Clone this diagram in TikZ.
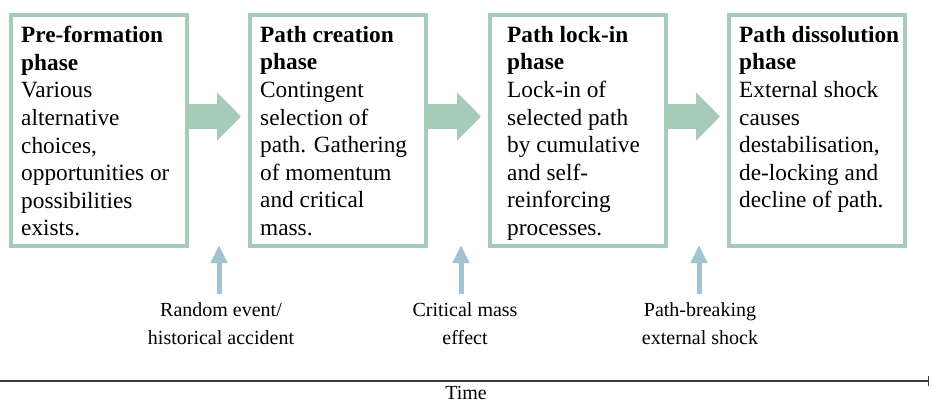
\documentclass[tikz,border=0pt]{standalone}
\usepackage{fontspec}
\setmainfont{Liberation Serif}
\usetikzlibrary{arrows.meta}
\definecolor{sage}{RGB}{166,203,185}
\definecolor{skyb}{RGB}{160,196,210}
\definecolor{axisgrey}{RGB}{60,60,60}
\begin{document}
\begin{tikzpicture}[x=1pt,y=-1pt,
  phasebox/.style={draw=sage,line width=4pt,minimum width=176pt,minimum height=231pt,inner sep=0pt},
  phasetext/.style={anchor=north west,align=left,inner sep=0pt,font=\fontsize{23.3}{27.6}\selectfont},
  fatarrow/.style={draw=sage,line width=25pt,-{Triangle[length=24pt,width=47pt]},shorten >=7pt},
  cause/.style={draw=skyb,line width=5pt,-{Triangle[length=18pt,width=16pt]},shorten <=8pt},
  causelabel/.style={anchor=north,align=center,inner sep=0pt,font=\fontsize{20}{28}\selectfont},
  axis/.style={draw=axisgrey,line width=1.3pt,-{Bar[width=10pt]}},
]
\useasboundingbox (0,0) rectangle (931,402);

% phase boxes
\node[phasebox] (p1) at (99,130.5) {};
\node[phasebox] (p2) at (338,130.5) {};
\node[phasebox] (p3) at (578,130.5) {};
\node[phasebox] (p4) at (817,130.5) {};

% phase descriptions
\node[phasetext] (t1) at (21,26) {\textbf{Pre-formation}\\\textbf{phase}\\Various\\alternative\\choices,\\opportunities or\\possibilities\\exists.};
\node[phasetext] (t2) at (260,26) {\textbf{Path creation}\\\textbf{phase}\\Contingent\\selection of\\path. Gathering\\of momentum\\and critical\\mass.};
\node[phasetext] (t3) at (507,26) {\textbf{Path lock-in}\\\textbf{phase}\\Lock-in of\\selected path\\by cumulative\\and self-\\reinforcing\\processes.};
\node[phasetext] (t4) at (739,26) {\textbf{Path dissolution}\\\textbf{phase}\\External shock\\causes\\destabilisation,\\de-locking and\\decline of path.};

% transitions between phases
\draw[fatarrow] ([yshift=14pt]p1.east) -- ([yshift=14pt]p2.west);
\draw[fatarrow] ([yshift=14pt]p2.east) -- ([yshift=14pt]p3.west);
\draw[fatarrow] ([yshift=14pt]p3.east) -- ([yshift=14pt]p4.west);

% triggers
\node[causelabel] (l1) at (221,302) {Random event/\\historical accident};
\node[causelabel] (l2) at (465,302) {Critical mass\\effect};
\node[causelabel] (l3) at (700,302) {Path-breaking\\external shock};
\coordinate (c1) at (219,245);
\coordinate (c2) at (461,245);
\coordinate (c3) at (699,245);
\draw[cause] (c1 |- l1.north) -- (c1);
\draw[cause] (c2 |- l2.north) -- (c2);
\draw[cause] (c3 |- l3.north) -- (c3);

% time axis
\coordinate (a0) at (0,381);
\coordinate (a1) at (929,381);
\draw[axis] (a0) -- (a1);
\node[inner sep=0pt,font=\fontsize{20}{24}\selectfont] (time) at (466,393) {Time};
\end{tikzpicture}
\end{document}
